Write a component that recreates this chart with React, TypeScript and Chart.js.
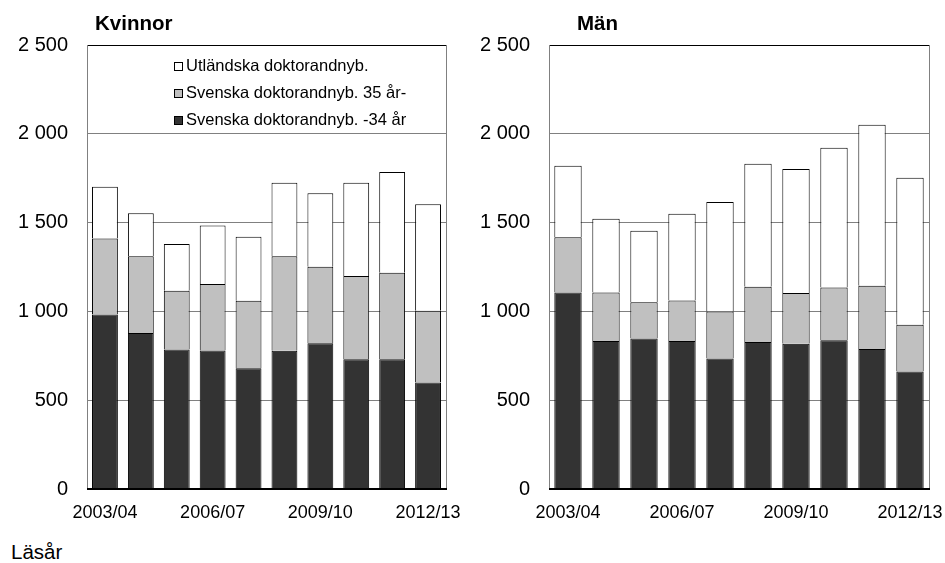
import React, { useEffect, useRef } from "react";
import { Chart, registerables } from "chart.js";
Chart.register(...registerables);

const categories = ["2003/04", "2004/05", "2005/06", "2006/07", "2007/08", "2008/09", "2009/10", "2010/11", "2011/12", "2012/13"];
const seriesLabels = ["Svenska doktorandnyb. -34 år", "Svenska doktorandnyb. 35 år-", "Utländska doktorandnyb."];
const seriesColors = ["#333333", "#c0c0c0", "#ffffff"];

const kvinnorUnder35 = [983, 878, 786, 780, 680, 778, 821, 730, 730, 600];
const kvinnorOver35 = [428, 432, 330, 374, 380, 532, 430, 469, 487, 403];
const kvinnorUtl = [291, 242, 263, 330, 360, 414, 414, 525, 568, 600];

const manUnder35 = [1107, 834, 848, 833, 735, 827, 818, 837, 788, 662];
const manOver35 = [310, 273, 204, 229, 265, 312, 285, 298, 356, 263];
const manUtl = [403, 415, 402, 488, 616, 693, 699, 787, 907, 828];

const yMax = 2500;
const yStep = 500;
const titles = ["Kvinnor", "Män"];
const xAxisTitle = "Läsår";

const FONT = "'Liberation Sans', Arial, sans-serif";

const fmt = (v: number) => String(v).replace(/\B(?=(\d{3})+(?!\d))/g, " ");

const framePlugin = {
  id: "frame",
  afterDatasetsDraw(chart: any) {
    const { ctx, chartArea: a } = chart;
    ctx.save();
    ctx.strokeStyle = "#808080";
    ctx.lineWidth = 1;
    ctx.beginPath();
    ctx.moveTo(a.right + 0.5, a.top);
    ctx.lineTo(a.right + 0.5, a.bottom);
    ctx.stroke();
    ctx.strokeStyle = "#000000";
    ctx.lineWidth = 2;
    ctx.beginPath();
    ctx.moveTo(a.left, a.bottom);
    ctx.lineTo(a.right + 1, a.bottom);
    ctx.stroke();
    ctx.restore();
  },
};

const legendPlugin = {
  id: "innerLegend",
  afterDraw(chart: any) {
    const opts = chart.options.plugins.innerLegend;
    if (!opts || !opts.show) return;
    const { ctx, chartArea: a } = chart;
    const ds = chart.data.datasets;
    ctx.save();
    ctx.font = `16.5px ${FONT}`;
    ctx.textBaseline = "middle";
    ctx.textAlign = "left";
    const order = [2, 1, 0];
    order.forEach((di, row) => {
      const y = a.top + 21 + row * 27;
      const x = a.left + 87;
      ctx.fillStyle = ds[di].backgroundColor;
      ctx.fillRect(x, y - 4, 8, 8);
      ctx.strokeStyle = "#000";
      ctx.lineWidth = 1;
      ctx.strokeRect(x + 0.5, y - 3.5, 8, 8);
      ctx.fillStyle = "#000";
      ctx.fillText(ds[di].label, x + 12, y + 0.5);
    });
    ctx.restore();
  },
};

type PanelProps = {
  series: number[][];
  left: number;
  width: number;
  yWidth: number;
  padRight: number;
  showLegend: boolean;
};

function Panel({ series, left, width, yWidth, padRight, showLegend }: PanelProps) {
  const ref = useRef<HTMLCanvasElement>(null);
  useEffect(() => {
    if (!ref.current) return;
    const chart = new Chart(ref.current, {
      type: "bar",
      data: {
        labels: categories,
        datasets: series.map((d, i) => ({
          label: seriesLabels[i],
          data: d,
          backgroundColor: seriesColors[i],
          borderColor: "#000000",
          borderWidth: 1,
          barPercentage: 0.72,
          categoryPercentage: 1,
        })),
      },
      options: {
        animation: false,
        responsive: true,
        maintainAspectRatio: false,
        layout: { padding: { top: 45, bottom: 11, right: padRight, left: 0 } },
        plugins: {
          legend: { display: false },
          tooltip: { enabled: false },
          title: { display: false },
          innerLegend: { show: showLegend },
        } as any,
        scales: {
          x: {
            stacked: true,
            grid: { display: false, drawTicks: false },
            border: { display: false },
            afterFit: (s: any) => {
              s.height = 30;
              s.paddingLeft = 0;
              s.paddingRight = 0;
            },
            ticks: {
              autoSkip: false,
              maxRotation: 0,
              minRotation: 0,
              padding: 13,
              color: "#000",
              font: { family: FONT, size: 18 },
              callback: (_v: any, i: number) => (i % 3 === 0 ? categories[i] : ""),
            },
          },
          y: {
            stacked: true,
            min: 0,
            max: yMax,
            afterFit: (s: any) => {
              s.width = yWidth;
              s.paddingTop = 0;
              s.paddingBottom = 0;
            },
            grid: {
              drawTicks: false,
              color: (c: any) => (c.tick && c.tick.value === yMax ? "#000000" : "#808080"),
              lineWidth: 1,
            },
            border: { display: true, color: "#808080", width: 1 },
            ticks: {
              stepSize: yStep,
              padding: 19,
              color: "#000",
              font: { family: FONT, size: 20 },
              callback: (v: any) => fmt(Number(v)),
            },
          },
        },
      },
      plugins: [framePlugin, legendPlugin],
    });
    return () => chart.destroy();
  }, []);
  return (
    <div style={{ position: "absolute", left, top: 0, width, height: 530 }}>
      <canvas ref={ref} />
    </div>
  );
}

export default function App() {
  return (
    <div style={{ position: "absolute", left: 0, top: 0, width: 945, height: 563, background: "#fff", fontFamily: FONT }}>
      <Panel series={[kvinnorUnder35, kvinnorOver35, kvinnorUtl]} left={0} width={470} yWidth={87} padRight={24} showLegend={true} />
      <Panel series={[manUnder35, manOver35, manUtl]} left={470} width={475} yWidth={79} padRight={16} showLegend={false} />
      <div style={{ position: "absolute", left: 95, top: 11, fontWeight: "bold", fontSize: 20.5, lineHeight: "24px" }}>{titles[0]}</div>
      <div style={{ position: "absolute", left: 577, top: 11, fontWeight: "bold", fontSize: 20.5, lineHeight: "24px" }}>{titles[1]}</div>
      <div style={{ position: "absolute", left: 11, top: 540, fontSize: 20.5, lineHeight: "24px" }}>{xAxisTitle}</div>
    </div>
  );
}
